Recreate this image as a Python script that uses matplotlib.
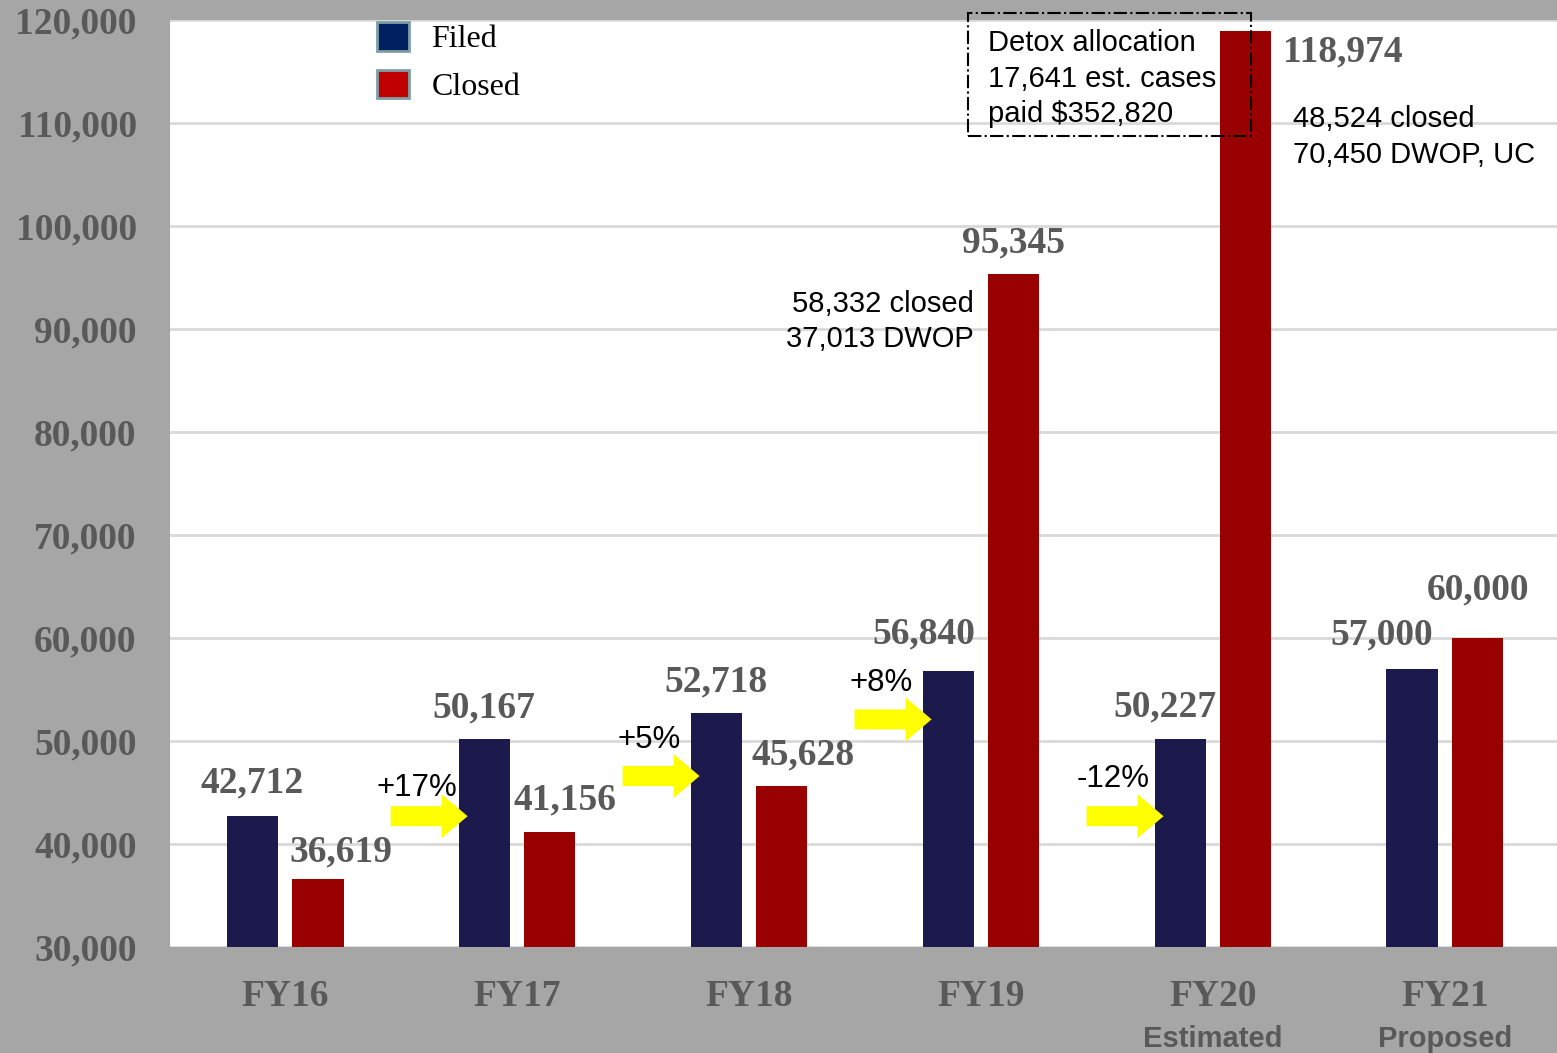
import matplotlib.pyplot as plt
from matplotlib.patches import Patch, FancyArrow, Rectangle

# data
years = ['FY16', 'FY17', 'FY18', 'FY19', 'FY20', 'FY21']
subs = ['', '', '', '', 'Estimated', 'Proposed']
filed = [42712, 50167, 52718, 56840, 50227, 57000]
closed = [36619, 41156, 45628, 95345, 118974, 60000]
pct_labels = ['+17%', '+5%', '+8%', '-12%']
pct_groups = [1, 2, 3, 4]
arrow_levels = [42700, 46600, 52100, 42700]

BG = '#a6a6a6'
GRAY = '#595959'
FILED_C = '#1c1a4c'
CLOSED_C = '#990000'

fig = plt.figure(figsize=(15.57, 10.53), dpi=100, facecolor=BG)
ax = fig.add_axes([170 / 1557, 1 - 947 / 1053, 1 - 170 / 1557, (947 - 20) / 1053])
ax.set_facecolor('white')

x = list(range(len(years)))
off = 0.142
w = 0.22
ax.bar([i - off for i in x], filed, w, color=FILED_C, zorder=3)
ax.bar([i + off for i in x], closed, w, color=CLOSED_C, zorder=3)

ax.set_ylim(30000, 120000)
ax.set_xlim(-0.496, 5.483)
ax.set_yticks(range(30000, 120001, 10000))
ax.set_yticklabels([f'{v:,}' for v in range(30000, 120001, 10000)],
                   fontfamily='Liberation Serif', fontweight='bold',
                   fontsize=27, color=GRAY)
ax.tick_params(axis='y', length=0, pad=24)
ax.set_xticks(x)
ax.set_xticklabels([])
ax.tick_params(axis='x', length=0)
ax.grid(axis='y', color='#d9d9d9', linewidth=2, zorder=0)
for s in ax.spines.values():
    s.set_visible(False)

# x category labels
for i, (yr, sb) in enumerate(zip(years, subs)):
    ax.annotate(yr, (i, 30000), xytext=(0, -49), textcoords='offset pixels',
                ha='center', va='center', fontfamily='Liberation Serif',
                fontweight='bold', fontsize=27, color=GRAY, annotation_clip=False)
    if sb:
        ax.annotate(sb, (i, 30000), xytext=(0, -92), textcoords='offset pixels',
                    ha='center', va='center', fontfamily='Liberation Sans',
                    fontweight='bold', fontsize=21, color=GRAY, annotation_clip=False)

# value labels
filed_off = [(0, 33), (0, 31), (0, 31), (-24, 37), (-15, 32), (-30, 34)]
closed_off = [(23, 27), (15, 32), (21, 31), (0, 31), (97, -21), (0, 48)]
for i in x:
    ax.annotate(f'{filed[i]:,}', (i - off, filed[i]), xytext=filed_off[i],
                textcoords='offset pixels', ha='center', va='center',
                fontfamily='Liberation Serif', fontweight='bold', fontsize=27,
                color=GRAY, zorder=5, annotation_clip=False)
    ax.annotate(f'{closed[i]:,}', (i + off, closed[i]), xytext=closed_off[i],
                textcoords='offset pixels', ha='center', va='center',
                fontfamily='Liberation Serif', fontweight='bold', fontsize=27,
                color=GRAY, zorder=5, annotation_clip=False)

# yellow arrows + percent changes
px_y = 10000 / 103
px_x = 1 / 232
pct_dy = [28, 36, 36, 37]
for g, lvl, lab, dy in zip(pct_groups, arrow_levels, pct_labels, pct_dy):
    start = g - 0.545
    length = 77 * px_x
    arr = FancyArrow(start, lvl, length, 0, width=20 * px_y,
                     head_width=44 * px_y, head_length=26 * px_x,
                     length_includes_head=True, color='#ffff00', lw=0, zorder=4)
    ax.add_patch(arr)
    ax.text(start + length / 2 - 12 * px_x, lvl + dy * px_y, lab,
            ha='center', va='center', fontfamily='Liberation Sans',
            fontsize=22.5, color='black', zorder=5)

# annotations
ax.text(3 - off + w / 2, 95345 - 16 * px_y, '58,332 closed\n37,013 DWOP',
        ha='right', va='top', fontfamily='Liberation Sans', fontsize=21,
        linespacing=1.33, zorder=5)
ax.text(4.345, 111700, '48,524 closed\n70,450 DWOP, UC',
        ha='left', va='top', fontfamily='Liberation Sans', fontsize=21,
        linespacing=1.33, zorder=5)
ax.text(3.03, 119080, 'Detox allocation\n17,641 est. cases\npaid $352,820',
        ha='left', va='top', fontfamily='Liberation Sans', fontsize=21,
        linespacing=1.33, zorder=5)
box = Rectangle((2.944, 108738), 4.164 - 2.944, 120680 - 108738, fill=False,
                edgecolor='black', linestyle='-.', linewidth=1.5, zorder=6,
                clip_on=False)
ax.add_patch(box)

# legend
handles = [Patch(facecolor='#002060', edgecolor='#7f9fa6', linewidth=2, label='Filed'),
           Patch(facecolor='#c00000', edgecolor='#7f9fa6', linewidth=2, label='Closed')]
ax.legend(handles=handles, loc='upper left', bbox_to_anchor=(0.1285, 1.0288),
          frameon=False, prop={'family': 'Liberation Serif', 'size': 23},
          handlelength=1.0, handleheight=1.0, handletextpad=0.7,
          labelspacing=0.48)

fig.savefig('out.png', dpi=100, facecolor=BG)
